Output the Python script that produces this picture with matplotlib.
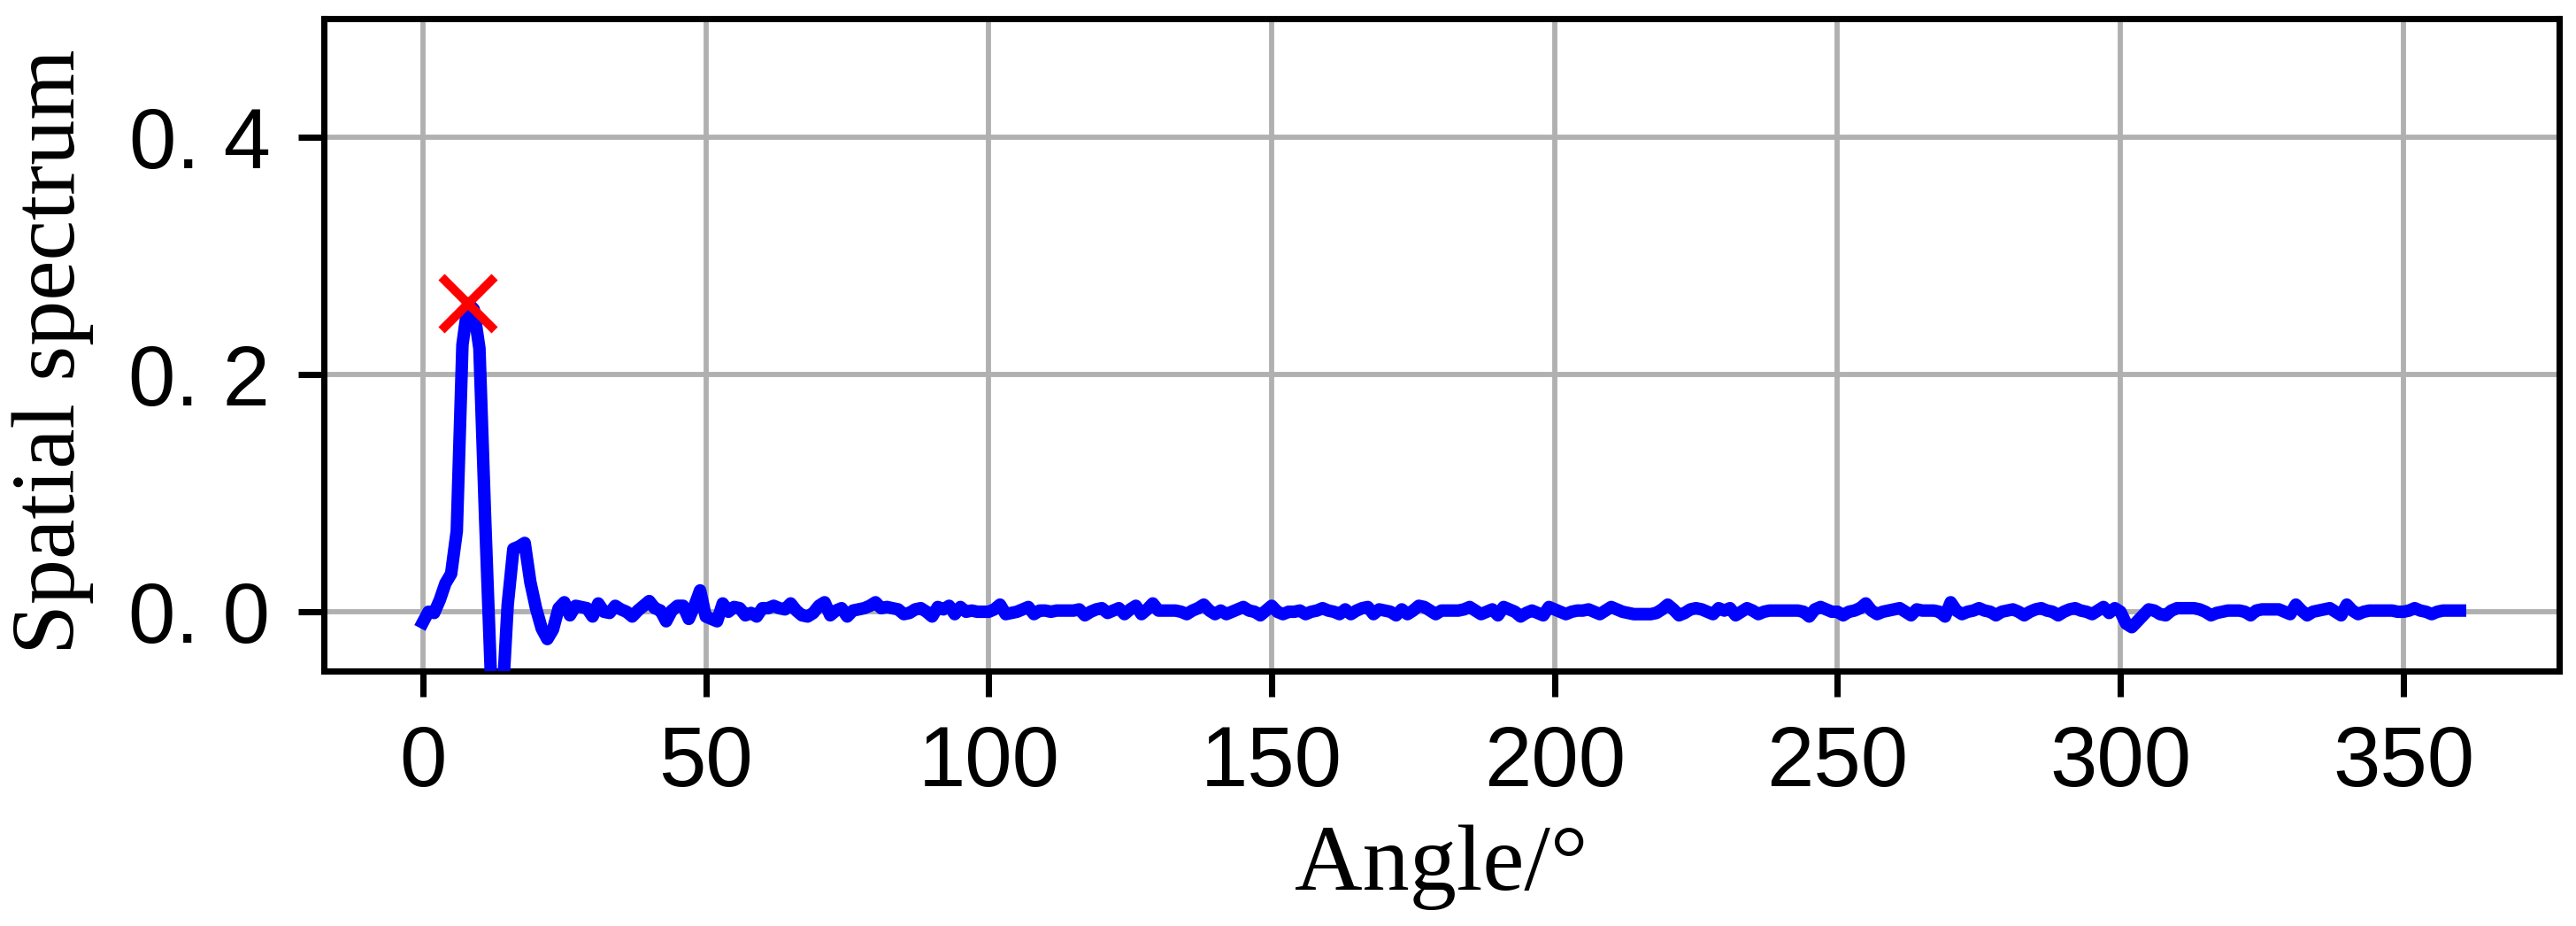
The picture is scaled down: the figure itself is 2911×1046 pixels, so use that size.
import numpy as np
import matplotlib
matplotlib.use("Agg")
import matplotlib.pyplot as plt
from matplotlib.ticker import FuncFormatter

# spatial spectrum, one sample per degree (0..360)
spectrum = [
    -0.009, 0.000, -0.001, 0.010, 0.024, 0.032, 0.068, 0.225, 0.260, 0.255,
    0.222, 0.080, -0.050, -0.120, -0.080, 0.006, 0.053, 0.055, 0.058, 0.025,
    0.003, -0.014, -0.023, -0.015, 0.003, 0.008, -0.003, 0.005, 0.004, 0.003,
    -0.004, 0.007, 0.000, -0.001, 0.005, 0.002, 0.000, -0.004, 0.001, 0.005,
    0.009, 0.003, 0.001, -0.008, 0.001, 0.005, 0.005, -0.006, 0.005, 0.018,
    -0.004, -0.006, -0.008, 0.007, 0.000, 0.004, 0.003, -0.003, -0.001, -0.004,
    0.003, 0.003, 0.005, 0.003, 0.002, 0.007, 0.001, -0.003, -0.004, -0.001,
    0.005, 0.008, -0.003, 0.001, 0.003, -0.004, 0.001, 0.002, 0.003, 0.005,
    0.008, 0.003, 0.004, 0.003, 0.002, -0.002, -0.001, 0.002, 0.003, 0.000,
    -0.004, 0.004, 0.002, 0.005, -0.002, 0.004, 0.000, 0.001, 0.000, 0.000,
    0.000, 0.002, 0.006, -0.002, -0.001, 0.000, 0.002, 0.004, -0.002, 0.001,
    0.001, 0.000, 0.001, 0.001, 0.001, 0.001, 0.002, -0.003, 0.000, 0.002,
    0.003, -0.001, 0.001, 0.003, -0.002, 0.002, 0.005, -0.002, 0.002, 0.007,
    0.001, 0.001, 0.001, 0.001, 0.000, -0.002, 0.001, 0.003, 0.006, 0.001,
    -0.002, 0.001, -0.002, 0.000, 0.002, 0.004, 0.001, 0.000, -0.003, 0.001,
    0.005, 0.000, -0.002, 0.000, 0.000, 0.001, -0.002, 0.000, 0.001, 0.003,
    0.001, 0.000, -0.002, 0.002, -0.002, 0.001, 0.003, 0.004, -0.002, 0.002,
    0.001, 0.000, -0.003, 0.002, -0.002, 0.001, 0.005, 0.004, 0.001, -0.002,
    0.001, 0.001, 0.001, 0.001, 0.002, 0.004, 0.001, -0.002, 0.000, 0.002,
    -0.003, 0.004, 0.002, 0.000, -0.004, -0.001, 0.001, -0.001, -0.003, 0.004,
    0.002, 0.000, -0.002, 0.000, 0.001, 0.001, 0.002, 0.000, -0.002, 0.001,
    0.004, 0.002, 0.000, -0.001, -0.002, -0.002, -0.002, -0.002, -0.001, 0.002,
    0.006, 0.002, -0.003, -0.001, 0.002, 0.003, 0.002, 0.000, -0.002, 0.003,
    0.001, 0.003, -0.003, 0.000, 0.003, 0.001, -0.002, 0.000, 0.001, 0.001,
    0.001, 0.001, 0.001, 0.001, 0.000, -0.004, 0.002, 0.004, 0.002, 0.000,
    0.000, -0.003, 0.000, 0.001, 0.003, 0.007, 0.001, -0.002, 0.000, 0.001,
    0.002, 0.003, 0.000, -0.003, 0.002, 0.001, 0.001, 0.001, 0.000, -0.004,
    0.008, 0.001, -0.002, 0.000, 0.001, 0.003, 0.001, 0.000, -0.003, 0.000,
    0.001, 0.002, 0.000, -0.003, 0.000, 0.002, 0.003, 0.001, 0.000, -0.003,
    0.000, 0.002, 0.003, 0.001, 0.000, -0.002, 0.001, 0.004, -0.001, 0.003,
    0.000, -0.010, -0.013, -0.008, -0.003, 0.002, 0.001, -0.002, -0.003, 0.001,
    0.003, 0.003, 0.003, 0.003, 0.002, 0.000, -0.003, -0.001, 0.000, 0.001,
    0.001, 0.001, 0.000, -0.003, 0.001, 0.002, 0.002, 0.002, 0.002, 0.000,
    -0.002, 0.006, 0.001, -0.003, 0.000, 0.001, 0.002, 0.003, 0.000, -0.003,
    0.006, 0.001, -0.002, 0.000, 0.001, 0.001, 0.001, 0.001, 0.001, 0.000,
    0.000, 0.001, 0.003, 0.001, 0.000, -0.002, 0.000, 0.001, 0.001, 0.001,
    0.001,
]
angles = np.arange(len(spectrum))

# estimated peak
peak_angle = 8
peak_value = 0.26

xticks = [0, 50, 100, 150, 200, 250, 300, 350]
yticks = [0.0, 0.2, 0.4]

fig = plt.figure(figsize=(2911 / 300, 1046 / 300), dpi=300)
ax = fig.add_axes([0.1257, 0.2753, 0.8677, 0.7046])

ax.plot(angles, spectrum, color="#0000ff", lw=3.4, zorder=3)
ax.plot([peak_angle], [peak_value], "x", color="#ff0000", ms=14.5, mew=2.4, zorder=4)

ax.set_xlim(-17.5, 377.5)
ax.set_ylim(-0.05, 0.5)
ax.set_xticks(xticks)
ax.set_yticks(yticks)
ax.yaxis.set_major_formatter(FuncFormatter(lambda v, p: f"{v:.1f}".replace(".", ". ")))
ax.grid(True, color="#b0b0b0", lw=1.4, zorder=0)
ax.set_axisbelow(True)

for s in ax.spines.values():
    s.set_linewidth(1.7)
ax.tick_params(width=1.7, length=7, pad=7.5, labelsize=23)
for lab in ax.get_xticklabels() + ax.get_yticklabels():
    lab.set_fontfamily("Liberation Sans")

ax.set_xlabel("Angle/\u00b0", family="Liberation Serif", fontsize=25.5)
ax.set_ylabel("Spatial spectrum", family="Liberation Serif", fontsize=24.5)
ax.xaxis.set_label_coords(0.5, -0.236)
ax.yaxis.set_label_coords(-0.103, 0.49)

fig.savefig("out.png", dpi=300)
